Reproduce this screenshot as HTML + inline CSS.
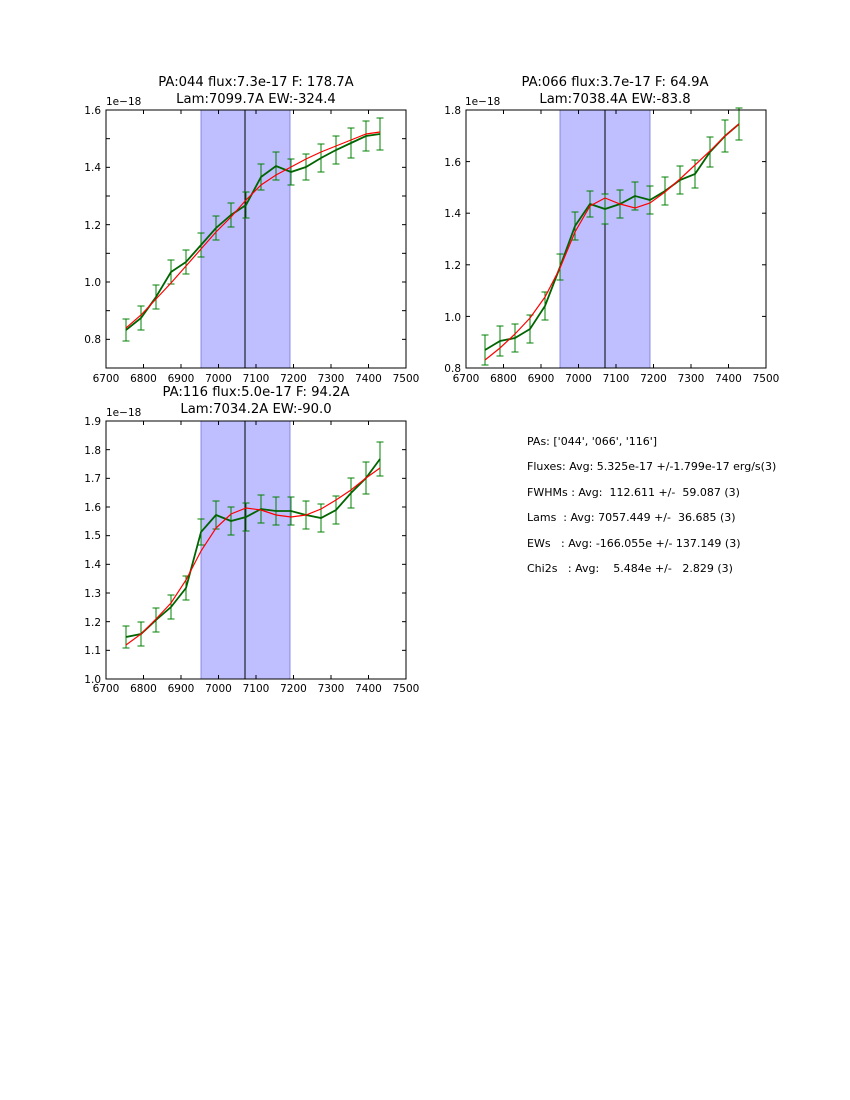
<!DOCTYPE html>
<html><head><meta charset="utf-8"><style>
body{margin:0;background:#fff;}
svg{display:block;font-family:"DejaVu Sans","Liberation Sans",sans-serif;}
.st text{white-space:pre;}
</style></head><body>
<svg id="s" width="850" height="1100" xmlns="http://www.w3.org/2000/svg">
<rect width="850" height="1100" fill="#fff"/>
<rect x="201" y="110" width="89" height="258" fill="#bfbfff"/>
<rect x="560" y="110" width="90" height="258" fill="#bfbfff"/>
<rect x="201" y="421" width="89" height="258" fill="#bfbfff"/>
<g stroke="#7777dd" stroke-width="0.8"><line x1="201" y1="110" x2="201" y2="368"/><line x1="290" y1="110" x2="290" y2="368"/><line x1="560" y1="110" x2="560" y2="368"/><line x1="650" y1="110" x2="650" y2="368"/><line x1="201" y1="421" x2="201" y2="679"/><line x1="290" y1="421" x2="290" y2="679"/></g>
<g stroke="#000" stroke-width="1"><line x1="245" y1="110" x2="245" y2="368"/><line x1="605" y1="110" x2="605" y2="368"/><line x1="245" y1="421" x2="245" y2="679"/></g>
<g id="dyn"></g>
<g font-size="10.5" fill="#000">
<g text-anchor="middle">
<text x="106" y="382">6700</text><text x="143.5" y="382">6800</text><text x="181" y="382">6900</text><text x="218.5" y="382">7000</text><text x="256" y="382">7100</text><text x="293.5" y="382">7200</text><text x="331" y="382">7300</text><text x="368.5" y="382">7400</text><text x="406" y="382">7500</text>
<text x="466" y="382">6700</text><text x="503.5" y="382">6800</text><text x="541" y="382">6900</text><text x="578.5" y="382">7000</text><text x="616" y="382">7100</text><text x="653.5" y="382">7200</text><text x="691" y="382">7300</text><text x="728.5" y="382">7400</text><text x="766" y="382">7500</text>
<text x="106" y="692">6700</text><text x="143.5" y="692">6800</text><text x="181" y="692">6900</text><text x="218.5" y="692">7000</text><text x="256" y="692">7100</text><text x="293.5" y="692">7200</text><text x="331" y="692">7300</text><text x="368.5" y="692">7400</text><text x="406" y="692">7500</text>
</g>
<g text-anchor="end">
<text x="101" y="343">0.8</text><text x="101" y="286">1.0</text><text x="101" y="229">1.2</text><text x="101" y="171">1.4</text><text x="101" y="114">1.6</text>
<text x="461" y="372">0.8</text><text x="461" y="321">1.0</text><text x="461" y="269">1.2</text><text x="461" y="217">1.4</text><text x="461" y="166">1.6</text><text x="461" y="114">1.8</text>
<text x="101" y="683">1.0</text><text x="101" y="654">1.1</text><text x="101" y="626">1.2</text><text x="101" y="597">1.3</text><text x="101" y="568">1.4</text><text x="101" y="539">1.5</text><text x="101" y="511">1.6</text><text x="101" y="482">1.7</text><text x="101" y="454">1.8</text><text x="101" y="425">1.9</text>
</g>
<text x="106" y="105">1e−18</text><text x="465" y="105">1e−18</text><text x="106" y="416">1e−18</text>
</g>
<g font-size="13.2" text-anchor="middle">
<text x="256" y="86">PA:044 flux:7.3e-17 F: 178.7A</text><text x="256" y="103">Lam:7099.7A EW:-324.4</text>
<text x="615" y="86">PA:066 flux:3.7e-17 F: 64.9A</text><text x="615" y="103">Lam:7038.4A EW:-83.8</text>
<text x="256" y="396">PA:116 flux:5.0e-17 F: 94.2A</text><text x="256" y="413">Lam:7034.2A EW:-90.0</text>
</g>
<g font-size="11" class="st" xml:space="preserve">
<text x="527" y="445">PAs: ['044', '066', '116']</text>
<text x="527" y="470">Fluxes: Avg: 5.325e-17 +/-1.799e-17 erg/s(3)</text>
<text x="527" y="496">FWHMs : Avg:  112.611 +/-  59.087 (3)</text>
<text x="527" y="521">Lams  : Avg: 7057.449 +/-  36.685 (3)</text>
<text x="527" y="547">EWs   : Avg: -166.055e +/- 137.149 (3)</text>
<text x="527" y="572">Chi2s   : Avg:    5.484e +/-   2.829 (3)</text>
</g>
</svg>
<script>
var NS="http://www.w3.org/2000/svg",g=document.getElementById("dyn");
function el(t,a){var e=document.createElementNS(NS,t);for(var k in a)e.setAttribute(k,a[k]);g.appendChild(e);return e;}
var xs=[126,141,156,171,186,201,216,231,246,261,276,291,306,321,336,351,366,380];
var P=[
{ox:0,e:[11,12,12,12,12,12,12,12,13,13,14,13,13,14,14,15,15,16],g:[330,318,297,272,262,245,228,215,205,177,166,172,167,158,150,143,136,134],
 r:[328,315,299,283,266,249,232,217,200,185,175,167,159,152,146,140,134,132]},
{ox:359,e:[15,15,14,14,14,13,14,13,15,14,14,14,14,14,14,15,16,16],g:[350,341,338,329,306,267,226,204,209,204,196,200,191,180,174,152,136,124],
 r:[360,348,334,318,297,268,232,206,198,204,208,203,192,179,165,151,136,124]},
{ox:0,e:[11,12,12,12,12,13,14,14,14,14,14,14,14,14,14,15,16,17],g:[637,634,620,607,588,532,515,521,517,509,511,511,515,518,510,493,478,459],
 r:[645,634,619,603,580,551,528,514,508,510,515,517,515,509,500,490,478,468]}];
var axes=[[106,110,0.7,0.9,0.1,0.8],[466,110,0.8,1.0,0.2,0.8],[106,421,1.0,0.9,0.1,1.0]];
P.forEach(function(p,i){
 var ax=axes[i];
 var pts=function(a){return a.map(function(y,j){return (xs[j]+p.ox)+","+y;}).join(" ");};
 for(var j=0;j<18;j++){var x=xs[j]+p.ox,y=p.g[j],e=p.e[j];
  el("line",{x1:x,y1:y-e,x2:x,y2:y+e,stroke:"#008000","stroke-width":1});
  el("line",{x1:x-3.5,y1:y-e,x2:x+3.5,y2:y-e,stroke:"#008000","stroke-width":1});
  el("line",{x1:x-3.5,y1:y+e,x2:x+3.5,y2:y+e,stroke:"#008000","stroke-width":1});}
 el("polyline",{points:pts(p.g),fill:"none",stroke:"#006400","stroke-width":1.8});
 el("polyline",{points:pts(p.r),fill:"none",stroke:"#ff0000","stroke-width":1.2});
 var X=ax[0],Y=ax[1];
 el("rect",{x:X,y:Y,width:300,height:258,fill:"none",stroke:"#000","stroke-width":1});
 for(var k=0;k<=8;k++){var tx=X+k*37.5;el("line",{x1:tx,y1:Y+258,x2:tx,y2:Y+254,stroke:"#000"});el("line",{x1:tx,y1:Y,x2:tx,y2:Y+4,stroke:"#000"});}
 for(var v=ax[5];v<=ax[2]+ax[3]+1e-6;v+=ax[4]){var ty=Y+258-(v-ax[2])/ax[3]*258;el("line",{x1:X,y1:ty,x2:X+4,y2:ty,stroke:"#000"});el("line",{x1:X+300,y1:ty,x2:X+296,y2:ty,stroke:"#000"});}
});
</script>
</body></html>
